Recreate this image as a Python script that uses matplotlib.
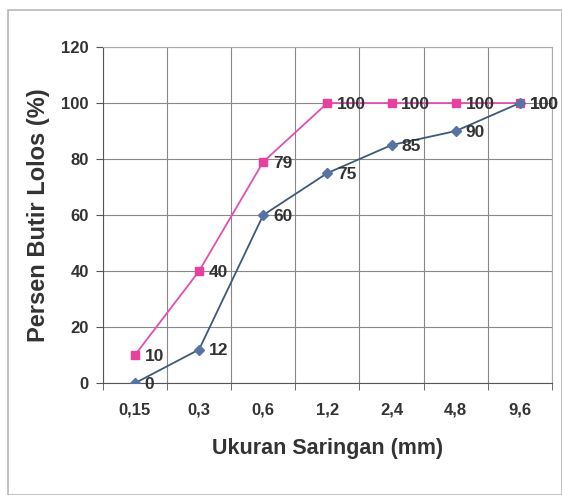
import numpy as np
import matplotlib.pyplot as plt

plt.rcParams['font.family'] = ['Liberation Sans', 'DejaVu Sans']

sizes = ["0,15", "0,3", "0,6", "1,2", "2,4", "4,8", "9,6"]
lolos_max = [10, 40, 79, 100, 100, 100, 100]
lolos_sample = [0, 12, 60, 75, 85, 90, 100]

fig = plt.figure(figsize=(5.62, 4.95), dpi=100)
# grey frame of the chart area
fig.patches.append(plt.Rectangle((0.015, 0.0), 0.985, 0.98, transform=fig.transFigure,
                                 fill=False, edgecolor='#b8b8b8', linewidth=1.2))
ax = fig.add_axes([0.183, 0.226, 0.799, 0.679])

x = np.arange(len(sizes))
ax.plot(x, lolos_max, color='#e050b0', marker='s', markersize=6, linewidth=1.3,
        markerfacecolor='#e8409c', markeredgecolor='#e8409c', zorder=3)
ax.plot(x, lolos_sample, color='#3e5a78', marker='D', markersize=5.5, linewidth=1.3,
        markerfacecolor='#5673a3', markeredgecolor='#5673a3', zorder=3)

for xi, v in zip(x, lolos_max):
    ax.annotate(str(v), (xi, v), xytext=(7, -1), textcoords='offset points',
                va='center', ha='left', fontsize=12.5, fontweight='bold', color='#333333')
for xi, v in zip(x, lolos_sample):
    ax.annotate(str(v), (xi, v), xytext=(7, -1), textcoords='offset points',
                va='center', ha='left', fontsize=12.5, fontweight='bold', color='#333333')

ax.set_xlim(-0.5, len(sizes) - 0.5)
ax.set_ylim(0, 120)
ax.set_yticks(range(0, 121, 20))
ax.set_xticks(x)
ax.set_xticklabels(sizes)
ax.set_xticks(np.arange(-0.5, len(sizes)), minor=True)
ax.tick_params(axis='x', which='major', length=0, pad=14, labelsize=12)
ax.tick_params(axis='x', which='minor', length=5, color='#555555')
ax.tick_params(axis='y', length=5, color='#555555', labelsize=12, pad=5)
for lab in ax.get_xticklabels() + ax.get_yticklabels():
    lab.set_fontweight('bold')
    lab.set_color('#333333')

ax.grid(True, which='minor', axis='x', color='#888888', linewidth=0.8)
ax.grid(True, which='major', axis='y', color='#888888', linewidth=0.8)
for side in ['top', 'right']:
    ax.spines[side].set_color('#aaaaaa')
for side in ['left', 'bottom']:
    ax.spines[side].set_color('#555555')

ax.set_xlabel("Ukuran Saringan (mm)", fontsize=15.5, fontweight='bold', color='#333333', labelpad=15)
ax.set_ylabel("Persen Butir Lolos (%)", fontsize=17, fontweight='bold', color='#333333', labelpad=8)

fig.savefig("out.png", dpi=100)
